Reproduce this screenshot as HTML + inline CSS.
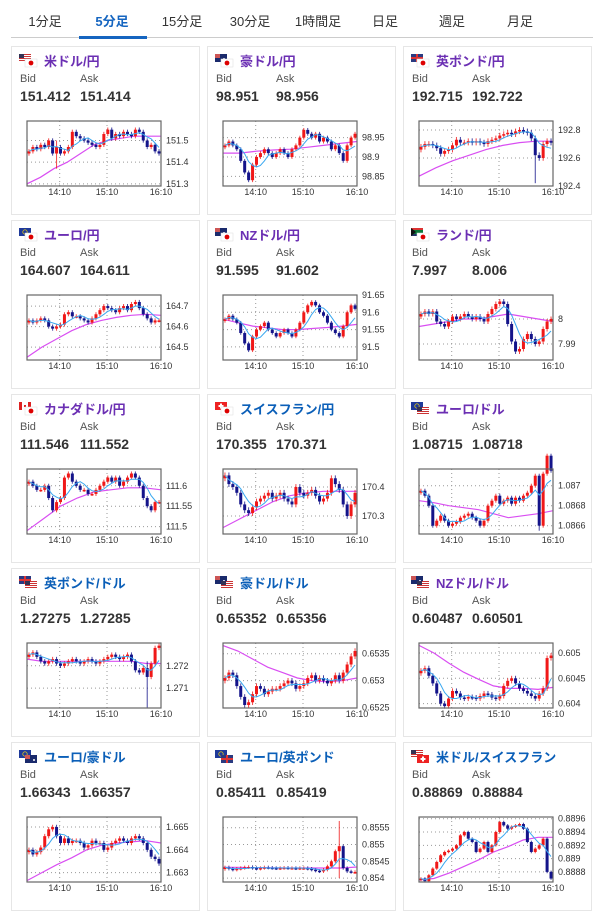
<!DOCTYPE html>
<html><head><meta charset="utf-8">
<style>
body{margin:0;width:602px;height:909px;background:#fff;font-family:"Liberation Sans","Noto Sans CJK JP",sans-serif;position:relative;overflow:hidden}
.tab{position:absolute;top:11px;font-size:13px;color:#333;transform:translateX(-50%);white-space:nowrap}
.tab.active{color:#1565c0;font-weight:bold}
.card{position:absolute;width:187px;height:167px;border:1px solid #e6e6e6;background:#fff}
.title{position:absolute;left:32px;top:4px;font-size:13px;font-weight:bold;white-space:nowrap}
.lbl{position:absolute;top:26px;font-size:11px;color:#555}
.val{position:absolute;top:41px;font-size:14px;font-weight:bold;color:#333}
svg.ch{position:absolute;left:0;top:0}
</style></head><body>
<div id="tabs"></div>
<div style="position:absolute;left:11px;top:37px;width:582px;height:1px;background:#ccc"></div>
<div style="position:absolute;left:79px;top:36px;width:68px;height:3px;background:#1565c0"></div>
<div id="grid"></div>
<script>
const tabLabels=["1分足","5分足","15分足","30分足","1時間足","日足","週足","月足"];
const tabX=[45,112,182,250,318,385,452,520];
const tabs=document.getElementById('tabs');
tabLabels.forEach((t,i)=>{const d=document.createElement('div');d.className='tab'+(i==1?' active':'');d.style.left=tabX[i]+'px';d.textContent=t;


tabs.appendChild(d);});

const titles=["米ドル/円","豪ドル/円","英ポンド/円","ユーロ/円","NZドル/円","ランド/円","カナダドル/円","スイスフラン/円","ユーロ/ドル","英ポンド/ドル","豪ドル/ドル","NZドル/ドル","ユーロ/豪ドル","ユーロ/英ポンド","米ドル/スイスフラン"];
const bids=["151.412","98.951","192.715","164.607","91.595","7.997","111.546","170.355","1.08715","1.27275","0.65352","0.60487","1.66343","0.85411","0.88869"];
const asks=["151.414","98.956","192.722","164.611","91.602","8.006","111.552","170.371","1.08718","1.27285","0.65356","0.60501","1.66357","0.85419","0.88884"];
const purple=[1,1,1,1,1,1,1,0,1,0,0,1,0,0,0];
const flagA=["us","au","gb","eu","nz","za","ca","ch","eu","gb","au","nz","eu","eu","us"];
const flagB=["jp","jp","jp","jp","jp","jp","jp","jp","us","us","us","us","au","gb","ch"];
const yMins=[151.29,98.825,192.4,164.437,91.462,7.9836,111.482,170.238,1.086517,1.27011,0.652494,0.603913,1.66259,0.853884,0.888648];
const yMaxs=[151.59,98.993,192.864,164.754,91.65,8.0096,111.641,170.462,1.087167,1.27302,0.653698,0.605198,1.66544,0.855818,0.889626];
const ticks=[[151.3,151.4,151.5],[98.85,98.9,98.95],[192.4,192.6,192.8],[164.5,164.6,164.7],[91.5,91.55,91.6,91.65],[7.99,8],[111.5,111.55,111.6],[170.3,170.4],[1.0866,1.0868,1.087],[1.271,1.272],[0.6525,0.653,0.6535],[0.604,0.6045,0.605],[1.663,1.664,1.665],[0.854,0.8545,0.855,0.8555],[0.8888,0.889,0.8892,0.8894,0.8896]];
const tickLabels=[["151.3","151.4","151.5"],["98.85","98.9","98.95"],["192.4","192.6","192.8"],["164.5","164.6","164.7"],["91.5","91.55","91.6","91.65"],["7.99","8"],["111.5","111.55","111.6"],["170.3","170.4"],["1.0866","1.0868","1.087"],["1.271","1.272"],["0.6525","0.653","0.6535"],["0.604","0.6045","0.605"],["1.663","1.664","1.665"],["0.854","0.8545","0.855","0.8555"],["0.8888","0.889","0.8892","0.8894","0.8896"]];
const closes=[
[151.45,151.47,151.46,151.48,151.47,151.50,151.44,151.47,151.44,151.45,151.47,151.54,151.52,151.51,151.50,151.49,151.48,151.47,151.48,151.53,151.55,151.51,151.53,151.52,151.54,151.53,151.52,151.55,151.54,151.50,151.47,151.48,151.45,151.44],
[98.93,98.94,98.93,98.92,98.89,98.86,98.84,98.88,98.90,98.91,98.92,98.91,98.90,98.91,98.92,98.91,98.90,98.92,98.93,98.95,98.97,98.96,98.95,98.96,98.94,98.95,98.94,98.92,98.93,98.91,98.89,98.93,98.95,98.96],
[192.68,192.70,192.70,192.69,192.67,192.63,192.65,192.66,192.69,192.73,192.71,192.71,192.72,192.71,192.72,192.71,192.70,192.72,192.73,192.74,192.76,192.77,192.78,192.77,192.79,192.80,192.79,192.78,192.74,192.62,192.60,192.70,192.72,192.71],
[164.63,164.62,164.63,164.64,164.63,164.60,164.59,164.60,164.61,164.66,164.67,164.65,164.65,164.64,164.63,164.62,164.64,164.66,164.68,164.70,164.69,164.68,164.67,164.69,164.70,164.68,164.71,164.72,164.69,164.66,164.64,164.62,164.63,164.63],
[91.58,91.59,91.58,91.57,91.54,91.51,91.49,91.53,91.55,91.56,91.57,91.55,91.54,91.53,91.54,91.55,91.54,91.53,91.55,91.57,91.60,91.62,91.63,91.62,91.60,91.59,91.57,91.55,91.54,91.53,91.56,91.60,91.62,91.61],
[8.002,8.003,8.002,8.003,7.999,7.998,7.997,7.999,8.001,8.000,8.001,8.002,8.001,8.000,8.001,8.000,7.999,8.002,8.004,8.006,8.007,8.006,7.998,7.991,7.987,7.988,7.992,7.994,7.992,7.990,7.991,7.996,7.999,8.000],
[111.61,111.60,111.59,111.59,111.60,111.57,111.54,111.56,111.57,111.62,111.63,111.61,111.60,111.59,111.59,111.58,111.58,111.59,111.60,111.61,111.62,111.61,111.62,111.60,111.61,111.62,111.63,111.62,111.60,111.57,111.55,111.54,111.56,111.56],
[170.44,170.41,170.40,170.38,170.34,170.32,170.31,170.33,170.35,170.36,170.37,170.38,170.36,170.37,170.38,170.36,170.35,170.34,170.40,170.38,170.37,170.38,170.39,170.37,170.35,170.36,170.38,170.43,170.41,170.39,170.34,170.30,170.34,170.38],
[1.08695,1.08690,1.08680,1.08660,1.08665,1.08670,1.08665,1.08660,1.08662,1.08664,1.08668,1.08670,1.08672,1.08668,1.08665,1.08660,1.08665,1.08680,1.08685,1.08690,1.08682,1.08685,1.08688,1.08682,1.08688,1.08685,1.08690,1.08693,1.08700,1.08710,1.08660,1.08712,1.08730,1.08715],
[1.2725,1.2726,1.2724,1.2722,1.2721,1.2722,1.2723,1.2721,1.2720,1.2721,1.2722,1.2723,1.2722,1.2721,1.2722,1.2723,1.2722,1.2721,1.2722,1.2723,1.2724,1.2725,1.2724,1.2723,1.2724,1.2725,1.2722,1.2718,1.2717,1.2719,1.2715,1.2721,1.2728,1.2729],
[0.65305,0.65315,0.65310,0.65290,0.65270,0.65255,0.65260,0.65275,0.65290,0.65285,0.65275,0.65280,0.65285,0.65285,0.65290,0.65295,0.65300,0.65295,0.65285,0.65290,0.65295,0.65305,0.65310,0.65300,0.65305,0.65300,0.65295,0.65300,0.65310,0.65300,0.65315,0.65330,0.65345,0.65355],
[0.60465,0.60470,0.60455,0.60440,0.60420,0.60400,0.60395,0.60410,0.60425,0.60420,0.60412,0.60410,0.60413,0.60412,0.60410,0.60415,0.60420,0.60418,0.60412,0.60410,0.60415,0.60435,0.60445,0.60450,0.60440,0.60430,0.60425,0.60420,0.60415,0.60410,0.60420,0.60430,0.60490,0.60495],
[1.6640,1.6638,1.6639,1.6641,1.6646,1.6649,1.6650,1.6646,1.6643,1.6645,1.6643,1.6644,1.6644,1.6643,1.6641,1.6642,1.6644,1.6643,1.6643,1.6640,1.6641,1.6643,1.6644,1.6645,1.6644,1.6643,1.6645,1.6646,1.6645,1.6643,1.6640,1.6637,1.6636,1.6634],
[0.85432,0.85428,0.85425,0.85428,0.85430,0.85432,0.85433,0.85430,0.85428,0.85430,0.85432,0.85431,0.85430,0.85429,0.85430,0.85431,0.85430,0.85430,0.85429,0.85430,0.85430,0.85428,0.85425,0.85422,0.85420,0.85425,0.85435,0.85450,0.85480,0.85495,0.85430,0.85420,0.85418,0.85418],
[0.88870,0.88866,0.88875,0.88885,0.88895,0.88905,0.88910,0.88912,0.88915,0.88920,0.88935,0.88940,0.88930,0.88925,0.88910,0.88915,0.88925,0.88910,0.88920,0.88940,0.88955,0.88950,0.88945,0.88948,0.88950,0.88952,0.88945,0.88925,0.88910,0.88915,0.88920,0.88930,0.88880,0.88870]
];
const longMA=[
[151.30,151.33,151.37,151.40,151.44,151.48,151.50,151.51,151.52,151.52,151.52],
[98.91,98.91,98.915,98.918,98.92,98.925,98.93,98.935,98.94],
[192.47,192.53,192.58,192.62,192.66,192.69,192.71,192.72,192.72],
[164.45,164.50,164.54,164.58,164.61,164.63,164.645,164.655,164.66,164.655],
[91.58,91.57,91.56,91.555,91.55,91.55,91.553,91.556,91.56,91.565],
[7.997,7.998,7.999,8.000,8.000,8.001,8.002,8.001,8.000,7.999],
[111.49,111.52,111.55,111.57,111.585,111.59,111.595,111.595,111.59],
[170.26,170.29,170.32,170.35,170.37,170.38,170.385,170.385,170.385],
[1.08685,1.08683,1.08680,1.08678,1.08676,1.08672,1.08668,1.08670,1.08672,1.08675],
[1.2723,1.2722,1.2722,1.2722,1.2722,1.2722,1.2722,1.2722,1.2721,1.2721],
[0.65365,0.65355,0.65340,0.65325,0.65315,0.65305,0.65300,0.65298,0.65300,0.65305],
[0.60515,0.60500,0.60480,0.60462,0.60448,0.60435,0.60430,0.60430,0.60428,0.60432],
[1.66265,1.6630,1.66335,1.66365,1.6640,1.6642,1.6643,1.66435,1.6644,1.6643],
[0.85432,0.85432,0.85431,0.85431,0.85430,0.85430,0.85430,0.85430,0.85430,0.85433],
[0.88868,0.88870,0.88878,0.88888,0.88898,0.88910,0.88918,0.88928,0.88932,0.88932]
];
// notable wicks: [chart, candle index, high, low]
const spikes=[[0,7,151.50,151.37],[2,29,192.70,192.42],[9,30,1.2722,1.2701],[13,29,0.8557,0.8540],[8,30,1.08712,1.08655]];

const SVGNS="http://www.w3.org/2000/svg";
function el(tag,attrs,parent){const e=document.createElementNS(SVGNS,tag);for(const k in attrs)e.setAttribute(k,attrs[k]);parent.appendChild(e);return e;}
function flagSvg(code,x,y,parent){
  const g=el('g',{},parent);
  const W=12,H=8;
  if(code=='jp'){el('rect',{x,y,width:W,height:H,fill:'#fff',stroke:'#ddd','stroke-width':0.5},g);el('circle',{cx:x+6,cy:y+4,r:2.4,fill:'#d00'},g);}
  else if(code=='us'){el('rect',{x,y,width:W,height:H,fill:'#fff'},g);for(let i=0;i<4;i++)el('rect',{x,y:y+i*2,width:W,height:1,fill:'#c33'},g);el('rect',{x,y,width:5,height:4,fill:'#335'},g);}
  else if(code=='au'||code=='nz'){el('rect',{x,y,width:W,height:H,fill:'#1a2a6c'},g);el('rect',{x,y,width:5,height:4,fill:'#c55'},g);el('circle',{cx:x+9,cy:y+5,r:1,fill:'#fff'},g);}
  else if(code=='gb'){el('rect',{x,y,width:W,height:H,fill:'#2a3a80'},g);el('rect',{x,y:y+3,width:W,height:2,fill:'#d33'},g);el('rect',{x:x+5,y,width:2,height:H,fill:'#d33'},g);}
  else if(code=='eu'){el('rect',{x,y,width:W,height:H,fill:'#1f3a9a'},g);el('circle',{cx:x+6,cy:y+4,r:2.2,fill:'none',stroke:'#fd0','stroke-width':0.7},g);}
  else if(code=='za'){el('rect',{x,y,width:W,height:H,fill:'#0a7a3a'},g);el('rect',{x,y,width:W,height:2,fill:'#d33'},g);el('rect',{x,y:y+6,width:W,height:2,fill:'#236'},g);el('path',{d:`M${x} ${y}L${x+5} ${y+4}L${x} ${y+8}Z`,fill:'#111'},g);}
  else if(code=='ca'){el('rect',{x,y,width:W,height:H,fill:'#fff'},g);el('rect',{x,y,width:3,height:H,fill:'#d22'},g);el('rect',{x:x+9,y,width:3,height:H,fill:'#d22'},g);el('rect',{x:x+5,y:y+3,width:2,height:2,fill:'#d22'},g);}
  else if(code=='ch'){el('rect',{x,y,width:W,height:H,fill:'#e22'},g);el('rect',{x:x+5,y:y+1.5,width:2,height:5,fill:'#fff'},g);el('rect',{x:x+3.5,y:y+3,width:5,height:2,fill:'#fff'},g);}
}

const grid=document.getElementById('grid');
const cardLeft=[11,207,403];
const BX=15,BY=74,BW=134,BH=65,N=34;
const pitch=BW/N;
for(let i=0;i<15;i++){
  const r=Math.floor(i/3),c=i%3;
  const card=document.createElement('div');
  card.className='card';
  card.style.left=cardLeft[c]+'px';card.style.top=(46+174*r)+'px';
  
  
  grid.appendChild(card);
  const t=document.createElement('div');t.className='title';t.style.color=purple[i]?'#6b2fb3':'#0b5fb8';t.textContent=titles[i];
  
  
  card.appendChild(t);
  [['Bid',8,'lbl'],['Ask',68,'lbl'],[bids[i],8,'val'],[asks[i],68,'val']].forEach(([txt,x,cls],k)=>{
    const d=document.createElement('div');d.className=cls;d.style.left=x+'px';d.textContent=txt;
    
    
    card.appendChild(d);});
  const svg=el('svg',{class:'ch',width:189,height:169},card);
  
  
  flagSvg(flagA[i],7,7,svg);flagSvg(flagB[i],13,12,svg);
  const ymin=yMins[i],ymax=yMaxs[i];
  const Y=v=>BY+BH-(v-ymin)/(ymax-ymin)*BH;
  const X=k=>BX+pitch*(k+0.5);
  ticks[i].forEach((tv,k)=>{const y=Y(tv);
    if(y>BY+1&&y<BY+BH-1)el('line',{x1:BX,x2:BX+BW,y1:y,y2:y,stroke:'#999','stroke-dasharray':'1,3'},svg);
    const tx=el('text',{x:BX+BW+5,y:y+3,'font-size':9,fill:'#333','font-family':'Liberation Sans, sans-serif'},svg);tx.textContent=tickLabels[i][k];});
  [[32.7,'14:10'],[80,'15:10'],[BW,'16:10']].forEach(([gx,lab])=>{
    if(gx<BW)el('line',{x1:BX+gx,x2:BX+gx,y1:BY,y2:BY+BH,stroke:'#999','stroke-dasharray':'1,3'},svg);
    const tx=el('text',{x:BX+gx,y:BY+BH+9,'font-size':9,fill:'#333','text-anchor':'middle','font-family':'Liberation Sans, sans-serif'},svg);tx.textContent=lab;});
  const step=ticks[i][1]-ticks[i][0];
  const cl=closes[i];
  const lm=longMA[i];
  el('polyline',{points:lm.map((v,k)=>`${(BX+k*BW/(lm.length-1)).toFixed(1)},${Y(v).toFixed(1)}`).join(' '),fill:'none',stroke:'#d94ef2','stroke-width':1.2},svg);
  const g=el('g',{},svg);
  for(let k=0;k<cl.length;k++){
    const o=k?cl[k-1]:cl[0]-step*0.1, cv=cl[k];
    let hi=Math.max(o,cv)+step*0.1, lo=Math.min(o,cv)-step*0.1;
    spikes.forEach(s=>{if(s[0]==i&&s[1]==k){hi=Math.max(hi,s[2]);lo=Math.min(lo,s[3]);}});
    const col=cv>=o?'#f01818':'#14148a';
    const x=X(k);
    el('line',{x1:x,x2:x,y1:Y(hi),y2:Y(lo),stroke:col,'stroke-width':1,opacity:0.8},g);
    const y1=Y(Math.max(o,cv)),y2=Y(Math.min(o,cv));
    el('rect',{x:x-1.5,y:y1,width:3,height:Math.max(1.5,y2-y1),fill:col},g);
  }
  const pts=[];
  for(let k=0;k<cl.length;k++){const a=cl.slice(Math.max(0,k-4),k+1);pts.push(`${X(k).toFixed(1)},${Y(a.reduce((p,q)=>p+q,0)/a.length).toFixed(1)}`);}
  el('polyline',{points:pts.join(' '),fill:'none',stroke:'#3aa8f0','stroke-width':1},svg);
  el('rect',{x:BX,y:BY,width:BW,height:BH,fill:'none',stroke:'#666','stroke-width':1.2},svg);
}
</script>
</body></html>
